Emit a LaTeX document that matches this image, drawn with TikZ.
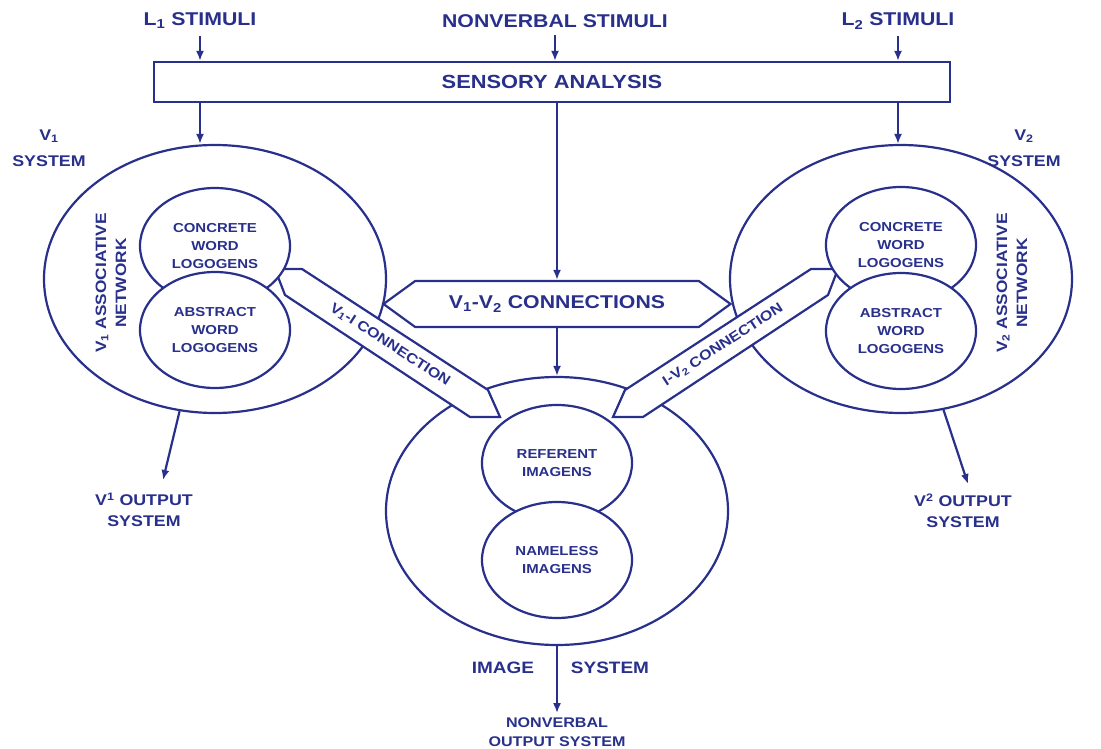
\documentclass[tikz,border=0pt]{standalone}
\usepackage{fontspec}
\setmainfont{Liberation Sans}[FakeStretch=1.15]
\usepackage{xcolor}
\usetikzlibrary{positioning, arrows.meta, shapes.geometric, shapes.symbols}
\definecolor{dblue}{RGB}{40,48,140}

\begin{document}
\begin{tikzpicture}[x=1pt, y=-1pt, line width=2.2pt, color=dblue,
  arr/.style={-{Latex[length=10pt,width=8pt]}},
  toplbl/.style={font=\fontsize{18.5}{21}\selectfont\bfseries, inner sep=6pt},
  syslbl/.style={font=\fontsize{15.5}{26}\selectfont\bfseries, align=center},
  outlbl/.style={font=\fontsize{15.5}{21}\selectfont\bfseries, align=center},
  netlbl/.style={font=\fontsize{15}{20}\selectfont\bfseries, align=center, rotate=90},
  big/.style={draw, ellipse, fill=white, minimum width=342pt, minimum height=268pt, inner sep=0pt},
  small/.style={draw, ellipse, fill=white, minimum width=150pt, minimum height=116pt, inner sep=0pt,
    align=center, font=\fontsize{13}{18}\selectfont\bfseries},
  band/.style={draw, fill=white, line join=miter},
  bandlbl/.style={font=\fontsize{14}{16}\selectfont\bfseries, inner sep=0pt}]
  \useasboundingbox (0,0) rectangle (1101,749);

  % stimuli and sensory analysis
  \node[toplbl] (l1) at (200,21) {L\textsubscript{1} STIMULI};
  \node[toplbl] (nvs) at (555,21) {NONVERBAL STIMULI};
  \node[toplbl] (l2) at (898,21) {L\textsubscript{2} STIMULI};
  \node[draw, fill=white, minimum width=796pt, minimum height=40pt, inner sep=0pt,
    font=\fontsize{19}{22}\selectfont\bfseries] (sens) at (552,82) {SENSORY ANALYSIS};

  % the three systems
  \node[big] (v1sys) at (215,279) {};
  \node[big] (v2sys) at (901,279) {};
  \node[big] (imgsys) at (557,511) {};

  % connections between systems
  \draw[band] (275,269) -- (302,269) -- (488,390) -- (500,417) -- (470,417) -- (285,295) -- cycle;
  \draw[band] (838,269) -- (811,269) -- (625,390) -- (613,417) -- (643,417) -- (828,295) -- cycle;
  \node[bandlbl, rotate=-33] (v1i) at (390,345) {V\textsubscript{1}-I CONNECTION};
  \node[bandlbl, rotate=33] (iv2) at (723,345) {I-V\textsubscript{2} CONNECTION};
  \node[draw, fill=white, signal, signal to=west and east, signal pointer angle=72,
    minimum width=347pt, minimum height=46pt, inner sep=0pt,
    font=\fontsize{18.5}{21}\selectfont\bfseries] (conn) at (557,304) {V\textsubscript{1}-V\textsubscript{2} CONNECTIONS};

  % logogens and imagens
  \node[small] (conc1) at (215,246) {CONCRETE\\WORD\\LOGOGENS};
  \node[small] (abs1) at (215,330) {ABSTRACT\\WORD\\LOGOGENS};
  \node[small] (conc2) at (901,245) {CONCRETE\\WORD\\LOGOGENS};
  \node[small] (abs2) at (901,331) {ABSTRACT\\WORD\\LOGOGENS};
  \node[small] (ref) at (557,463) {REFERENT\\IMAGENS};
  \node[small] (nameless) at (557,560) {NAMELESS\\IMAGENS};

  \node[netlbl] (v1net) at (111,283) {V\textsubscript{1} ASSOCIATIVE\\NETWORK};
  \node[netlbl] (v2net) at (1012,283) {V\textsubscript{2} ASSOCIATIVE\\NETWORK};
  \node[syslbl] (v1lbl) at (49,148) {V\textsubscript{1}\\SYSTEM};
  \node[syslbl] (v2lbl) at (1024,148) {V\textsubscript{2}\\SYSTEM};

  % outputs
  \node[outlbl] (v1out) at (144,510) {V\textsuperscript{1} OUTPUT\\SYSTEM};
  \node[outlbl] (v2out) at (963,511) {V\textsuperscript{2} OUTPUT\\SYSTEM};
  \node[font=\fontsize{16.5}{19}\selectfont\bfseries] (imglbl) at (503,668) {IMAGE};
  \node[font=\fontsize{16.5}{19}\selectfont\bfseries] (imgsyslbl) at (610,668) {SYSTEM};
  \node[outlbl, font=\fontsize{14}{19}\selectfont\bfseries] (nvout) at (557,732) {NONVERBAL\\OUTPUT SYSTEM};
  \coordinate (v1end) at (163,480);
  \coordinate (v2end) at (968,484);

  \draw[arr] (l1) -- (l1 |- sens.north);
  \draw[arr] (nvs) -- (nvs |- sens.north);
  \draw[arr] (l2) -- (l2 |- sens.north);
  \draw[arr] (sens.south -| l1) -- (l1 |- v1sys.north);
  \draw[arr] (sens.south -| l2) -- (l2 |- v2sys.north);
  \draw[arr] (sens.south -| conn.north) -- (conn.north);
  \draw[arr] (conn.south) -- (imgsys.north);
  \draw[arr] (v1sys.255) -- (v1end);
  \draw[arr] (v2sys.288) -- (v2end);
  \draw[arr] (imgsys.south) -- (nvout.north);
\end{tikzpicture}
\end{document}
